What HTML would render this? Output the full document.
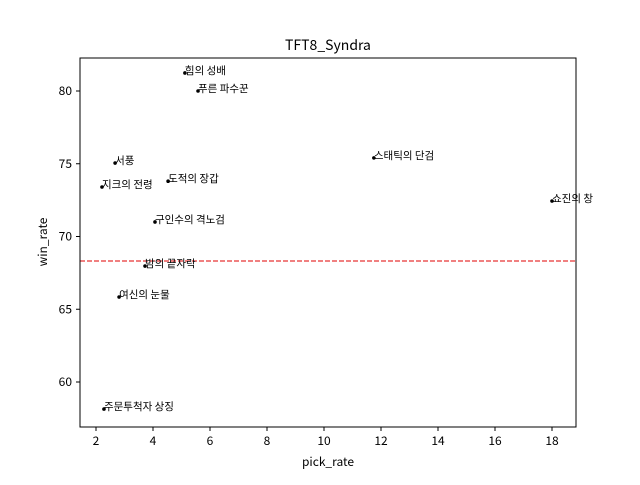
<!DOCTYPE html>
<html><head><meta charset="utf-8"><style>
body{margin:0;background:#fff;}
svg text{font-family:"Noto Sans CJK KR","Liberation Sans",sans-serif;}
</style></head><body>
<svg id="chart" width="640" height="480" viewBox="0 0 640 480" xmlns="http://www.w3.org/2000/svg">
<rect width="640" height="480" fill="#fff"/>
<text x="328" y="50" text-anchor="middle" font-size="14">TFT8_Syndra</text>
<g id="plot"></g>
<rect x="80" y="58" width="496" height="369" fill="none" stroke="#000" stroke-width="1"/>
<text x="328" y="466" text-anchor="middle" font-size="12">pick_rate</text>
<text transform="translate(47,242) rotate(-90)" text-anchor="middle" font-size="12">win_rate</text>
</svg>
<script>
const names = ["힘의 성배","푸른 파수꾼","서풍","지크의 전령","도적의 장갑","구인수의 격노검","밤의 끝자락","여신의 눈물","주문투척자 상징","스태틱의 단검","쇼진의 창"];
const pickRates = [5.12,5.58,2.67,2.21,4.53,4.07,3.72,2.81,2.28,11.75,18.0];
const winRates = [81.24,80.0,75.05,73.4,73.8,71.0,67.97,65.84,58.14,75.4,72.44];
const meanWinRate = 68.32;
const xTicks = [2,4,6,8,10,12,14,16,18];
const yTicks = [60,65,70,75,80];
const NS="http://www.w3.org/2000/svg";
function xs(v){return 39+v*28.5;}
function ys(v){return 91-(v-80)*14.55;}
const g=document.getElementById('plot');
function mk(t,a){const e=document.createElementNS(NS,t);for(const k in a)e.setAttribute(k,a[k]);return e;}
xTicks.forEach(t=>{
  const l=mk('line',{x1:xs(t),x2:xs(t),y1:427,y2:431,stroke:'#000'});
  
  
  g.appendChild(l);
  const tx=mk('text',{x:xs(t),y:445,'text-anchor':'middle','font-size':12});
  
  
  tx.textContent=t;g.appendChild(tx);
});
yTicks.forEach(t=>{
  const l=mk('line',{x1:76,x2:80,y1:ys(t),y2:ys(t),stroke:'#000'});
  
  
  g.appendChild(l);
  const tx=mk('text',{x:72,y:ys(t)+4,'text-anchor':'end','font-size':12});
  
  
  tx.textContent=t;g.appendChild(tx);
});
const ml=mk('line',{x1:80,x2:576,y1:ys(meanWinRate),y2:ys(meanWinRate),stroke:'#e00000','stroke-dasharray':'5,2','stroke-width':1});


g.appendChild(ml);
names.forEach((n,i)=>{
  const c=mk('circle',{cx:xs(pickRates[i]),cy:ys(winRates[i]),r:1.8,fill:'#000'});
  
  
  g.appendChild(c);
  const t=mk('text',{x:xs(pickRates[i]),y:ys(winRates[i])+1,'font-size':10.5});
  
  
  t.textContent=n;g.appendChild(t);
});
</script>
</body></html>
